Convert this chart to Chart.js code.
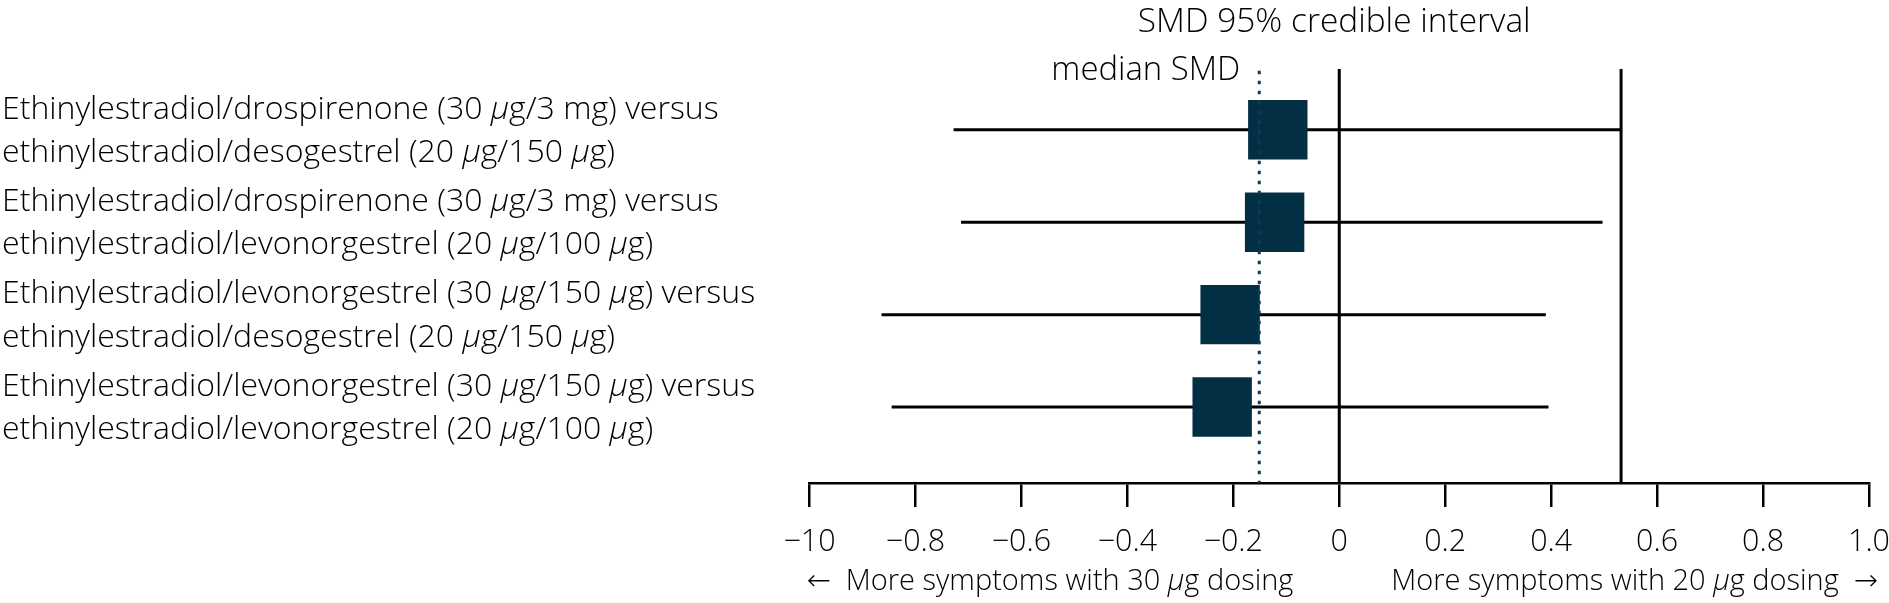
<!DOCTYPE html>
<html>
<head>
<meta charset="utf-8">
<script src="https://cdn.jsdelivr.net/npm/chart.js@4.4.1/dist/chart.umd.min.js"></script>
<style>
  html, body { margin: 0; padding: 0; background: #ffffff; }
  #wrap { width: 1889px; height: 603px; }
</style>
</head>
<body>
<div id="wrap"><canvas id="c" width="1889" height="603"></canvas></div>
<script>
// ---------------- data ----------------
const categories = [
  ["Ethinylestradiol/drospirenone (30 μg/3 mg) versus", "ethinylestradiol/desogestrel (20 μg/150 μg)"],
  ["Ethinylestradiol/drospirenone (30 μg/3 mg) versus", "ethinylestradiol/levonorgestrel (20 μg/100 μg)"],
  ["Ethinylestradiol/levonorgestrel (30 μg/150 μg) versus", "ethinylestradiol/desogestrel (20 μg/150 μg)"],
  ["Ethinylestradiol/levonorgestrel (30 μg/150 μg) versus", "ethinylestradiol/levonorgestrel (20 μg/100 μg)"]
];
const medianSMD = [-0.116, -0.122, -0.206, -0.221];
const lowerCrI  = [-0.728, -0.714, -0.864, -0.845];
const upperCrI  = [0.532, 0.497, 0.390, 0.395];
const pooledMedian = -0.151;
const zeroLine = 0;
const upperRefLine = 0.532;
const xTickValues = [-1, -0.8, -0.6, -0.4, -0.2, 0, 0.2, 0.4, 0.6, 0.8, 1];
const xTickLabels = ["−10", "−0.8", "−0.6", "−0.4", "−0.2", "0", "0.2", "0.4", "0.6", "0.8", "1.0"];
const headerText = "SMD 95% credible interval";
const medianText = "median SMD";
const leftNote = "←  More symptoms with 30 μg dosing";
const rightNote = "More symptoms with 20 μg dosing  →";

// ---------------- style ----------------
const FAM = "'Open Sans', 'DejaVu Sans', sans-serif";
const WEIGHT = "300";
const NAVY = "#032F45";
const DOT = "#0E3C55";
const Y_MIN = 0.342, Y_MAX = 4.822;

const mctx = document.createElement('canvas').getContext('2d');
function segs(text) {
  const out = []; let buf = "";
  for (const ch of text) {
    if (ch === "μ") { if (buf) out.push([buf, false]); out.push([ch, true]); buf = ""; }
    else buf += ch;
  }
  if (buf) out.push([buf, false]);
  return out;
}
function fontStr(size, italic) { return (italic ? "italic " : "") + WEIGHT + " " + size + "px " + FAM; }
function richWidth(ctx, text, size) {
  let w = 0;
  for (const [s, it] of segs(text)) { ctx.font = fontStr(size, it); w += ctx.measureText(s).width; }
  return w;
}
function fitSize(text, target) { return 100 * target / richWidth(mctx, text, 100); }
function drawRich(ctx, text, x, y, size, align) {
  const w = richWidth(ctx, text, size);
  if (align === "right") x -= w; else if (align === "center") x -= w / 2;
  ctx.textAlign = "left"; ctx.textBaseline = "alphabetic";
  for (const [s, it] of segs(text)) {
    ctx.font = fontStr(size, it);
    ctx.fillText(s, x, y);
    x += ctx.measureText(s).width;
  }
}

const labelSize = fitSize(categories[0][0], 717);
const headerSize = fitSize(headerText, 393);
const medianSize = fitSize(medianText, 189);
const noteSize = fitSize(leftNote, 487);
mctx.font = WEIGHT + " 100px " + FAM;
const tickSize = 100 * 42 / mctx.measureText("0.8").width;

const textPlugin = {
  id: 'texts',
  afterDraw(chart) {
    const ctx = chart.ctx, xs = chart.scales.x, ys = chart.scales.y;
    ctx.save();
    ctx.fillStyle = "#000";
    categories.forEach((lines, i) => {
      const yc = ys.getPixelForValue(i + 1);
      drawRich(ctx, lines[0], 2, yc - 11.2, labelSize, "left");
      drawRich(ctx, lines[1], 2, yc + 32.2, labelSize, "left");
    });
    drawRich(ctx, headerText, xs.getPixelForValue(zeroLine) - 5, 32, headerSize, "center");
    drawRich(ctx, medianText, xs.getPixelForValue(pooledMedian) - 19, 80, medianSize, "right");
    drawRich(ctx, leftNote, xs.getPixelForValue(-1) - 3, 590, noteSize, "left");
    drawRich(ctx, rightNote, xs.getPixelForValue(1) + 9, 590, noteSize, "right");
    ctx.restore();
  }
};

const datasets = [];
categories.forEach((c, i) => {
  datasets.push({
    type: 'line', showLine: true, pointRadius: 0, borderColor: "#000", borderWidth: 3,
    order: 4, data: [{ x: lowerCrI[i], y: i + 1 }, { x: upperCrI[i], y: i + 1 }]
  });
});
datasets.push({
  type: 'scatter', pointStyle: 'rect', pointRadius: 42, pointHoverRadius: 42,
  backgroundColor: NAVY, borderColor: NAVY, borderWidth: 0, order: 3,
  data: medianSMD.map((v, i) => ({ x: v, y: i + 1 }))
});
[zeroLine, upperRefLine].forEach(v => datasets.push({
  type: 'line', showLine: true, pointRadius: 0, borderColor: "#000", borderWidth: 3, order: 2,
  data: [{ x: v, y: Y_MIN }, { x: v, y: Y_MAX }]
}));
datasets.push({
  type: 'line', showLine: true, pointRadius: 0, borderColor: DOT, borderWidth: 3,
  borderDash: [3.3, 6.7], borderCapStyle: 'butt', order: 1,
  data: [{ x: pooledMedian, y: Y_MIN + 0.02 }, { x: pooledMedian, y: Y_MAX }]
});

new Chart(document.getElementById('c'), {
  type: 'scatter',
  data: { datasets },
  options: {
    responsive: false, animation: false, devicePixelRatio: 1,
    layout: { autoPadding: false, padding: { left: 809.5, right: 20, top: 69, bottom: 0 } },
    plugins: { legend: { display: false }, tooltip: { enabled: false }, title: { display: false } },
    scales: {
      x: {
        type: 'linear', position: 'bottom', min: -1, max: 1,
        afterBuildTicks: s => { s.ticks = xTickValues.map(v => ({ value: v })); },
        afterFit: s => { s.height = 120; s.paddingLeft = 0; s.paddingRight = 0; },
        ticks: {
          autoSkip: false, maxRotation: 0, padding: 17, color: "#000",
          font: { family: FAM, size: tickSize, weight: WEIGHT },
          callback: (v, i) => xTickLabels[i]
        },
        grid: { drawOnChartArea: false, drawTicks: true, tickLength: 24, color: "#000", lineWidth: 2.5 },
        border: { display: true, color: "#000", width: 2.5 }
      },
      y: { type: 'linear', reverse: true, min: Y_MIN, max: Y_MAX, display: false }
    }
  },
  plugins: [textPlugin]
});
</script>
</body>
</html>
